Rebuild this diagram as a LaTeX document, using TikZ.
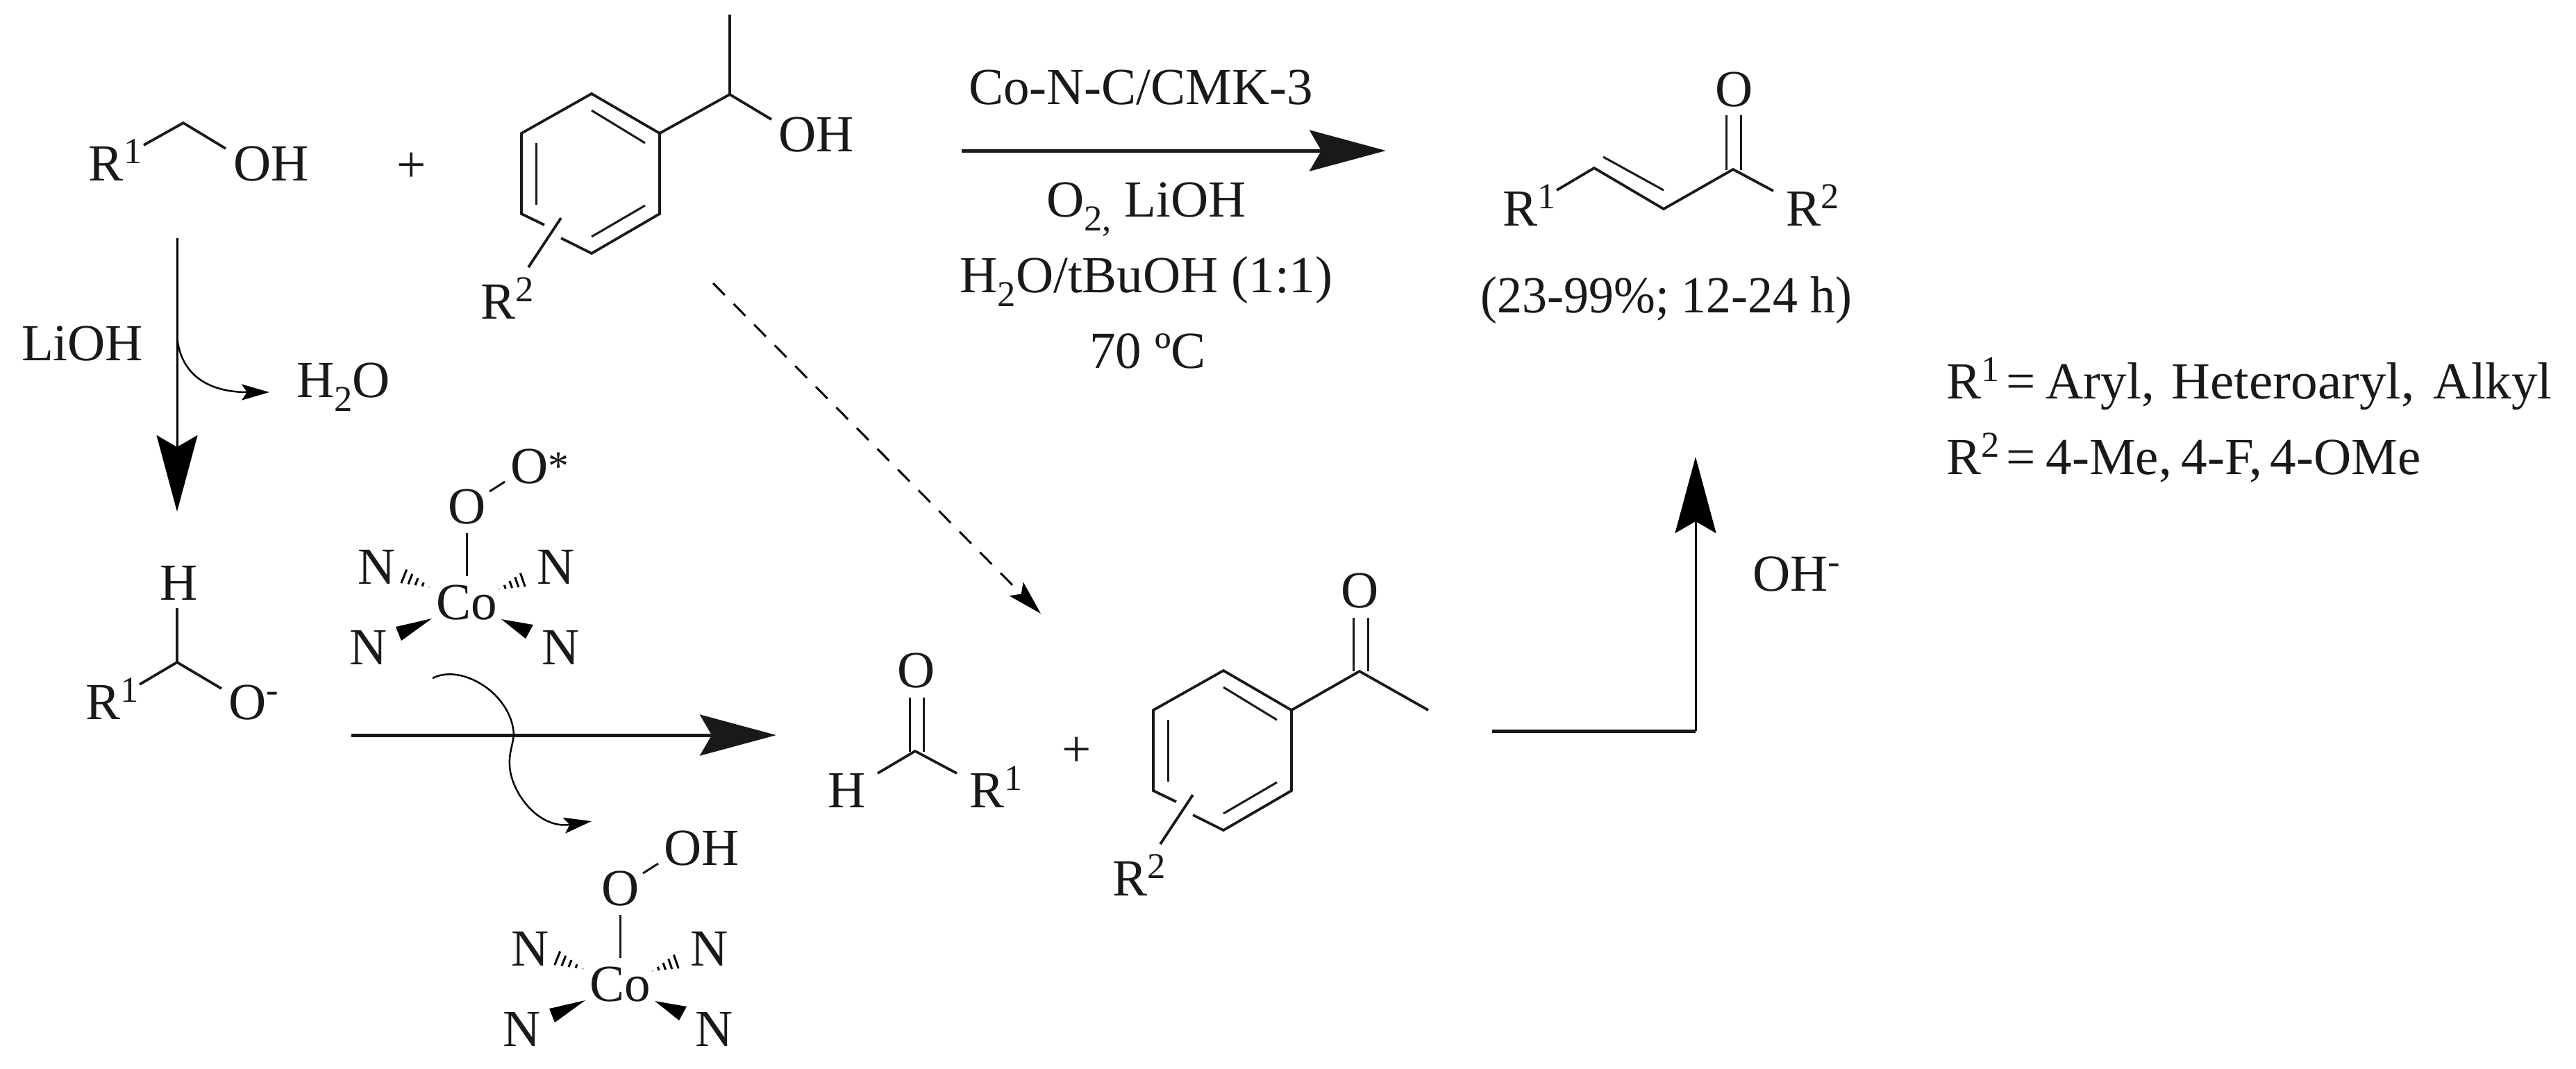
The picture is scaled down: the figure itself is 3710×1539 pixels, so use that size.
\documentclass[tikz,border=0pt]{standalone}
\usepackage{fontspec}
\setmainfont{Liberation Serif}
\usetikzlibrary{calc,arrows.meta}
\newcommand{\supr}[1]{\raisebox{5pt}{\fontsize{10.5}{12}\selectfont #1}}
\newcommand{\subr}[1]{\raisebox{-4pt}{\fontsize{10.5}{12}\selectfont #1}}
\newcommand{\starr}{\raisebox{1pt}{\fontsize{12}{12}\selectfont *}}
\tikzset{
  x=0.2pt,y=-0.2pt,
  lab/.style={inner sep=0pt,outer sep=0pt,anchor=base west,font=\fontsize{15}{18}\selectfont,text=black!90},
  mid/.style={lab,anchor=base},
  bond/.style={draw=black!90,line width=0.75pt},
  thinbond/.style={draw=black!90,line width=0.6pt},
  wedgefill/.style={fill=black,draw=none},
  hashline/.style={draw=black,line width=0.6pt},
  bighead/.style={-{Stealth[length=22pt,width=11.8pt,inset=3.4pt]}},
  smallhead/.style={-{Stealth[length=8pt,width=4.6pt,inset=1.6pt]}},
  dashhead/.style={-{Stealth[length=10pt,width=5.6pt,inset=2pt]}},
  thickarrow/.style={draw=black!90,line width=1pt},
  thinarrow/.style={draw=black,line width=0.6pt},
  curvearrow/.style={draw=black,line width=0.5pt},
}
% Co complex, #1 = name prefix, #2 = label on the outer oxygen
\newcommand{\cocomplex}[2]{%
  \node[lab] (#1O) at (645,754) {O};
  \node[lab] (#1top) at (735,696) {#2};
  \node[lab] (#1Co) at (628,892) {Co};
  \node[lab] (#1Na) at (515,841) {N};
  \node[lab] (#1Nb) at (773,841) {N};
  \node[lab] (#1Nc) at (503,957) {N};
  \node[lab] (#1Nd) at (780,957) {N};
  \coordinate (#1oa) at (705,708);
  \coordinate (#1ob) at (727,694);
  \coordinate (#1oc) at (672,768);
  \coordinate (#1od) at (672,830);
  \draw[thinbond] (#1oa) -- (#1ob);
  \draw[thinbond] (#1oc) -- (#1od);
  \coordinate (#1ha) at (619,846);
  \coordinate (#1hb) at (585,820);
  \coordinate (#1hc) at (577,840);
  \coordinate (#1hd) at (718,849);
  \coordinate (#1he) at (750,825);
  \coordinate (#1hf) at (757,845);
  \foreach \t in {0.02,0.26,0.5,0.74,0.98}{
    \draw[hashline] ($(#1ha)!\t!(#1hb)$) -- ($(#1ha)!\t!(#1hc)$);
    \draw[hashline] ($(#1hd)!\t!(#1he)$) -- ($(#1hd)!\t!(#1hf)$);
  }
  \coordinate (#1wa) at (622,891);
  \coordinate (#1wb) at (570,903);
  \coordinate (#1wc) at (578,923);
  \coordinate (#1wd) at (722,892);
  \coordinate (#1we) at (768,900);
  \coordinate (#1wf) at (757,920);
  \fill[wedgefill] (#1wa) -- (#1wb) -- (#1wc) -- cycle;
  \fill[wedgefill] (#1wd) -- (#1we) -- (#1wf) -- cycle;
}
% substituted benzene ring, #1 = name prefix
\newcommand{\benzring}[1]{%
  \coordinate (#1t) at (852,135);
  \coordinate (#1ur) at (950,192);
  \coordinate (#1lr) at (950,308);
  \coordinate (#1b) at (852,365);
  \coordinate (#1ll) at (751,308);
  \coordinate (#1ul) at (751,192);
  \coordinate (#1ga) at (784,324);
  \coordinate (#1gb) at (808,343);
  \draw[bond] (#1ga) -- (#1ll) -- (#1ul) -- (#1t) -- (#1ur) -- (#1lr) -- (#1b) -- (#1gb);
  \coordinate (#1ia) at (852,159);
  \coordinate (#1ib) at (929,206);
  \coordinate (#1ic) at (772,206);
  \coordinate (#1id) at (772,295);
  \coordinate (#1ie) at (929,296);
  \coordinate (#1if) at (852,341);
  \draw[thinbond] (#1ia) -- (#1ib);
  \draw[thinbond] (#1ic) -- (#1id);
  \draw[thinbond] (#1ie) -- (#1if);
  \node[lab] (#1R) at (692,459) {R\supr{2}};
  \coordinate (#1sa) at (808,314);
  \coordinate (#1sb) at (761,385);
  \draw[bond] (#1sa) -- (#1sb);
}
\begin{document}
\begin{tikzpicture}
\useasboundingbox (0,0) rectangle (3710,1539);
\fill[white] (0,0) rectangle (3710,1539);

% primary alcohol
\node[lab] (ra) at (128,260) {R\supr{1}};
\node[lab] (oha) at (336,260) {OH};
\coordinate (a1) at (207,209);
\coordinate (a2) at (264,177);
\coordinate (a3) at (325,214);
\draw[bond] (a1) -- (a2) -- (a3);
\node[mid] (plusa) at (593,262) {+};

% 1-arylethanol
\benzring{A}
\coordinate (e1) at (1051,136);
\coordinate (e2) at (1051,21);
\coordinate (e3) at (1111,172);
\draw[bond] (Aur) -- (e1) -- (e2);
\draw[bond] (e1) -- (e3);
\node[lab] (ohb) at (1121,218) {OH};

% vertical arrow
\coordinate (v1) at (255,343);
\coordinate (v2) at (255,737);
\draw[thinarrow,bighead] (v1) -- (v2);
\node[lab] (lioh) at (31,519) {LiOH};
\coordinate (w1) at (255,485);
\coordinate (w2) at (388,565);
\draw[curvearrow,smallhead] (w1) .. controls (260,540) and (300,565) .. (w2);
\node[lab] (water) at (427,572) {H\subr{2}O};

% dashed arrow
\coordinate (d1) at (1027,408);
\coordinate (d2) at (1499,884);
\draw[thinarrow,dashhead,dash pattern=on 4.8pt off 3.6pt] (d1) -- (d2);

% alkoxide
\node[lab] (hb) at (230,864) {H};
\coordinate (k1) at (255,876);
\coordinate (k2) at (255,954);
\coordinate (k3) at (201,986);
\coordinate (k4) at (319,992);
\draw[bond] (k1) -- (k2) -- (k3);
\draw[bond] (k2) -- (k4);
\node[lab] (rb) at (123,1036) {R\supr{1}};
\node[lab] (ominus) at (329,1036) {O\supr{-}};

% cobalt complexes
\cocomplex{P}{O\starr}
\begin{scope}[shift={(221,550)}]
\cocomplex{Q}{OH}
\end{scope}

% main lower arrow
\coordinate (m1) at (506,1059);
\coordinate (m2) at (1118,1059);
\draw[thickarrow,bighead] (m1) -- (m2);
\coordinate (c1) at (623,977);
\coordinate (c2) at (740,1059);
\coordinate (c3) at (734,1102);
\coordinate (c4) at (852,1183);
\draw[curvearrow,smallhead] (c1) .. controls (665,955) and (738,1000) .. (c2)
  .. controls (738,1075) and (733,1085) .. (c3)
  .. controls (735,1140) and (775,1195) .. (c4);

% aldehyde
\node[lab] (oc) at (1292,990) {O};
\coordinate (f1) at (1310,1005);
\coordinate (f2) at (1310,1083);
\coordinate (f3) at (1330,1005);
\coordinate (f4) at (1330,1083);
\draw[thinbond] (f1) -- (f2);
\draw[thinbond] (f3) -- (f4);
\coordinate (f5) at (1264,1114);
\coordinate (f6) at (1318,1082);
\coordinate (f7) at (1378,1114);
\draw[bond] (f5) -- (f6) -- (f7);
\node[lab] (hc) at (1192,1163) {H};
\node[lab] (rc) at (1396,1163) {R\supr{1}};
\node[mid] (plusb) at (1551,1104) {+};

% acetophenone
\begin{scope}[shift={(910,831)}]
\benzring{B}
\end{scope}
\coordinate (g1) at (1958,967);
\coordinate (g2) at (2057,1023);
\draw[bond] (Bur) -- (g1) -- (g2);
\coordinate (g3) at (1949,890);
\coordinate (g4) at (1949,967);
\coordinate (g5) at (1970,890);
\coordinate (g6) at (1970,967);
\draw[thinbond] (g3) -- (g4);
\draw[thinbond] (g5) -- (g6);
\node[lab] (od) at (1931,875) {O};

% elbow arrow
\coordinate (h1) at (2149,1053);
\coordinate (h2) at (2442,1053);
\coordinate (h3) at (2442,658);
\draw[thickarrow] (h1) -- (h2);
\draw[thinarrow,bighead] (h2) -- (h3);
\node[lab] (ohm) at (2524,851) {OH\supr{-}};

% top arrow and conditions
\coordinate (t1) at (1385,217);
\coordinate (t2) at (1996,217);
\draw[thickarrow,bighead] (t1) -- (t2);
\node[mid] (cond1) at (1643,150) {Co-N-C/CMK-3};
\node[mid] (cond2) at (1651,312) {O\subr{2,} LiOH};
\node[mid] (cond3) at (1651,421) {H\subr{2}O/tBuOH (1:1)};
\node[mid] (cond4) at (1653,530) {70 ºC};

% enone product
\node[lab] (oe) at (2470,153) {O};
\coordinate (p1) at (2486,166);
\coordinate (p2) at (2486,245);
\coordinate (p3) at (2507,166);
\coordinate (p4) at (2507,245);
\draw[thinbond] (p1) -- (p2);
\draw[thinbond] (p3) -- (p4);
\coordinate (p5) at (2242,274);
\coordinate (p6) at (2296,242);
\coordinate (p7) at (2396,301);
\coordinate (p8) at (2496,244);
\coordinate (p9) at (2554,275);
\draw[bond] (p5) -- (p6) -- (p7) -- (p8) -- (p9);
\coordinate (p10) at (2309,226);
\coordinate (p11) at (2396,274);
\draw[thinbond] (p10) -- (p11);
\node[lab] (rd) at (2164,325) {R\supr{1}};
\node[lab] (re) at (2572,325) {R\supr{2}};
\node[mid] (yield) at (2400,450) {\scalebox{0.957}[1]{(23-99\%; 12-24 h)}};

% legend
\node[lab] (lega) at (2803,574) {R\supr{1}\hspace{2pt}=\hspace{3pt}Aryl,\hspace{5pt}\scalebox{1.03}[1]{Heteroaryl,}\hspace{5.5pt}Alkyl};
\node[lab] (legb) at (2803,683) {R\supr{2}\hspace{2pt}=\hspace{3pt}4-Me,\hspace{2.8pt}4-F,\hspace{2.2pt}4-OMe};
\end{tikzpicture}
\end{document}
